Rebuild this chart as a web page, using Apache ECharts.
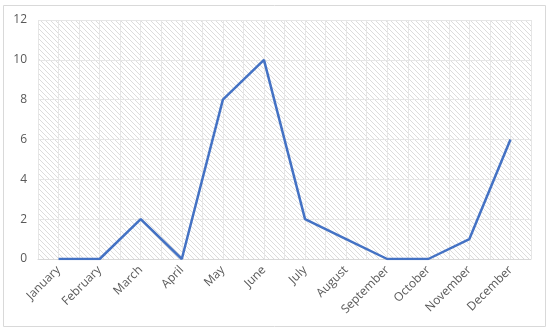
<!DOCTYPE html>
<html><head><meta charset="utf-8">
<script src="https://cdn.jsdelivr.net/npm/echarts@6/dist/echarts.min.js"></script>
<style>html,body{margin:0;padding:0;background:#fff}#c{width:550px;height:332px}</style>
</head><body><div id="c"></div>
<script>
const categories = ['January','February','March','April','May','June','July','August','September','October','November','December'];
const values = [0,0,2,0,8,10,2,1,0,0,1,6];
const yTicks = [0,2,4,6,8,10,12];

const pc = document.createElement('canvas');
pc.width = 5; pc.height = 5;
const g = pc.getContext('2d');
g.fillStyle = '#ffffff'; g.fillRect(0,0,5,5);
g.strokeStyle = '#dcdcdc'; g.lineWidth = 1;
g.beginPath();
g.moveTo(-1,-1); g.lineTo(6,6);
g.moveTo(-1,4); g.lineTo(1,6);
g.moveTo(4,-1); g.lineTo(6,1);
g.stroke();

const chart = echarts.init(document.getElementById('c'));
chart.setOption({
  animation:false,
  graphic:[{type:'rect',shape:{x:3.5,y:5.5,width:542,height:321},style:{fill:'none',stroke:'#d9d9d9',lineWidth:1},z:-10}],
  grid:{left:38,right:19,top:20,bottom:73,show:true,backgroundColor:{image:pc,repeat:'repeat'},borderWidth:0},
  xAxis:[{
    type:'category',data:categories,boundaryGap:true,
    axisLine:{lineStyle:{color:'#d9d9d9'}},axisTick:{show:false},
    axisLabel:{rotate:45,color:'#595959',fontSize:12,fontFamily:'Open Sans, sans-serif',margin:9,interval:0},
    splitLine:{show:false}
  },{
    type:'value',min:-0.5,max:11.5,interval:0.5,position:'bottom',
    axisLine:{show:false},axisTick:{show:false},axisLabel:{show:false},
    splitLine:{show:true,lineStyle:{color:'#e6e6e6',width:1}}
  }],
  yAxis:{type:'value',min:0,max:12,interval:2,
    axisLine:{show:false},axisTick:{show:false},
    axisLabel:{color:'#595959',fontSize:12,fontFamily:'Open Sans, sans-serif',margin:11,
      formatter:v=>yTicks.includes(v)?String(v):''},
    splitLine:{lineStyle:{color:'#e6e6e6',width:1}}
  },
  series:[{type:'line',data:values,xAxisIndex:0,symbol:'none',
    lineStyle:{color:'#4472C4',width:2.5},itemStyle:{color:'#4472C4'}}]
});
</script></body></html>
